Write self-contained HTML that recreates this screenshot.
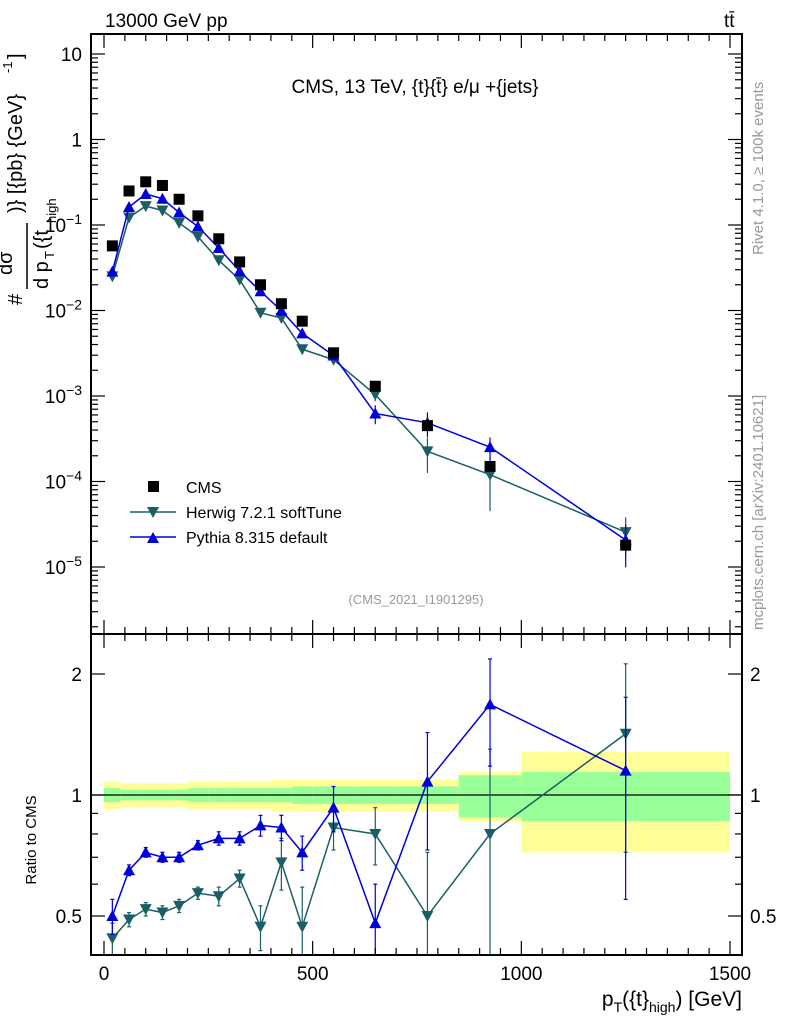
<!DOCTYPE html>
<html><head><meta charset="utf-8"><style>
body{margin:0;background:#fff}
svg{display:block;font-family:"Liberation Sans",sans-serif}
</style></head><body>
<svg id="c" width="786" height="1024">
<g id="bands"></g>
<g id="marks"></g>
<rect x="91" y="34" width="651" height="921" fill="none" stroke="#000" stroke-width="2"/>
<line x1="91" y1="634" x2="742" y2="634" stroke="#000" stroke-width="2"/>
<g id="axes"></g>
<text x="105" y="27" font-size="19">13000 GeV pp</text>
<text x="724" y="27" font-size="19">tt̄</text>
<text x="415" y="93" font-size="19" text-anchor="middle">CMS, 13 TeV, {t}{t̄} e/μ +{jets}</text>
<text x="416" y="604" font-size="13" fill="#999" text-anchor="middle">(CMS_2021_I1901295)</text>
<text transform="translate(763,255) rotate(-90)" font-size="15" fill="#999">Rivet 4.1.0, ≥ 100k events</text>
<text transform="translate(763,630) rotate(-90)" font-size="15" fill="#999">mcplots.cern.ch [arXiv:2401.10621]</text>
<g transform="translate(0,305) rotate(-90)">
<text x="0" y="22" font-size="20">#</text>
<line x1="16" y1="27" x2="82" y2="27" stroke="#000" stroke-width="1.5"/>
<text x="30" y="12" font-size="20">dσ</text>
<text x="16" y="48" font-size="20">d p</text><text x="46" y="54" font-size="13">T</text><text x="56" y="48" font-size="20">({t</text><text x="82" y="56" font-size="13">high</text>
<text x="92" y="22" font-size="20">)} [{pb} {GeV}</text><text x="232" y="12" font-size="13">-1</text><text x="246" y="22" font-size="20">]</text>
</g>
<text transform="translate(36,840) rotate(-90)" font-size="15" text-anchor="middle">Ratio to CMS</text>
<text x="742" y="1006" font-size="21" text-anchor="end">p<tspan font-size="14" dy="6">T</tspan><tspan dy="-6">({t}</tspan><tspan font-size="14" dy="6">high</tspan><tspan dy="-6">) [GeV]</tspan></text>
<g>
<rect x="148" y="481" width="11" height="11" fill="#000"/>
<text x="186" y="493" font-size="16">CMS</text>
<line x1="130" y1="512" x2="176" y2="512" stroke="#1b5e66" stroke-width="1.5"/>
<path d="M147,507 L159,507 L153,518Z" fill="#1b5e66"/>
<text x="186" y="518" font-size="16">Herwig 7.2.1 softTune</text>
<line x1="130" y1="537" x2="176" y2="537" stroke="#0000dd" stroke-width="1.5"/>
<path d="M147,543 L159,543 L153,532Z" fill="#0000dd"/>
<text x="186" y="543" font-size="16">Pythia 8.315 default</text>
</g>
</svg>
<script>
const xs=[20,60,100,140,180,225,275,325,375,425,475,550,650,775,925,1250];
const cms=[0.057,0.25,0.32,0.29,0.2,0.128,0.069,0.037,0.02,0.012,0.0075,0.0032,0.0013,0.00045,0.00015,0.000018];
const herwigRatio=[0.44,0.49,0.52,0.51,0.53,0.57,0.56,0.62,0.47,0.68,0.47,0.83,0.80,0.50,0.80,1.42];
const herwigErr=[0.04,0.02,0.02,0.02,0.02,0.02,0.03,0.03,0.06,0.1,0.12,0.1,0.13,0.22,0.5,0.7];
const pythiaRatio=[0.50,0.65,0.72,0.70,0.70,0.75,0.78,0.78,0.84,0.83,0.72,0.93,0.48,1.08,1.68,1.15];
const pythiaErr=[0.05,0.02,0.02,0.02,0.02,0.02,0.03,0.03,0.05,0.06,0.07,0.12,0.12,0.35,0.5,0.6];
const bandEdges=[0,40,80,120,160,200,250,300,350,400,450,500,600,700,850,1000,1500];
const yellowHalf=[0.08,0.07,0.07,0.07,0.07,0.08,0.08,0.08,0.08,0.09,0.09,0.09,0.09,0.09,0.14,0.28];
const greenHalf=[0.04,0.03,0.03,0.03,0.03,0.04,0.04,0.04,0.04,0.04,0.05,0.05,0.05,0.05,0.12,0.14];
const xTicks=[0,500,1000,1500];
const yTicks=[10,1,0.1,0.01,0.001,0.0001,0.00001];
const yTickLbl=["10","1","10^-1","10^-2","10^-3","10^-4","10^-5"];
const rTicks=[0.5,1,2];

const NS="http://www.w3.org/2000/svg";
const X=v=>104+v*(730-104)/1500;
const Y=v=>54-(Math.log10(v)-1)*85.5;
const R=v=>795-Math.log2(v)*121;
function mk(p,t,a){const e=document.createElementNS(NS,t);for(const k in a)e.setAttribute(k,a[k]);p.appendChild(e);return e;}
const bands=document.getElementById('bands'),marks=document.getElementById('marks'),axes=document.getElementById('axes');
for(let i=0;i<yellowHalf.length;i++){
 const x0=X(bandEdges[i]),x1=X(bandEdges[i+1]);
 let r=mk(bands,'rect',{x:x0,y:R(1+yellowHalf[i]),width:x1-x0,height:R(1-yellowHalf[i])-R(1+yellowHalf[i]),fill:'#ffff99'});
 
 
 r=mk(bands,'rect',{x:x0,y:R(1+greenHalf[i]),width:x1-x0,height:R(1-greenHalf[i])-R(1+greenHalf[i]),fill:'#99ff99'});
 
 
}
mk(bands,'line',{x1:91,x2:742,y1:R(1),y2:R(1),stroke:'#000','stroke-width':1.2});
function clipR(v){return Math.max(R(Math.max(v,0.39)),634);}
function series(ratio,err,col,down,name){
 let pm='',pr='';
 xs.forEach((x,i)=>{const v=cms[i]*ratio[i];pm+=(i?'L':'M')+X(x)+','+Y(v);pr+=(i?'L':'M')+X(x)+','+R(ratio[i]);});
 let l=mk(marks,'path',{d:pm,fill:'none',stroke:col,'stroke-width':1.5});
 
 
 l=mk(marks,'path',{d:pr,fill:'none',stroke:col,'stroke-width':1.5});
 
 
 xs.forEach((x,i)=>{
  const v=cms[i]*ratio[i],rel=err[i]/ratio[i],cx=X(x);
  if(i>=11){mk(marks,'line',{x1:cx,x2:cx,y1:Y(v*(1+rel)),y2:Y(v*Math.max(1-rel,0.3)),stroke:col,'stroke-width':1.2});}
  const up=ratio[i]+err[i],lo=ratio[i]-err[i];
  mk(marks,'line',{x1:cx,x2:cx,y1:clipR(up),y2:Math.min(lo>0.39?R(lo):955,955),stroke:col,'stroke-width':1.2});
  mk(marks,'line',{x1:cx-2,x2:cx+2,y1:clipR(up),y2:clipR(up),stroke:col,'stroke-width':1.2});
  if(lo>0.39)mk(marks,'line',{x1:cx-2,x2:cx+2,y1:R(lo),y2:R(lo),stroke:col,'stroke-width':1.2});
  [Y(v),R(ratio[i])].forEach((cy,k)=>{
   const d=down?`M${cx-6},${cy-5}L${cx+6},${cy-5}L${cx},${cy+6}Z`:`M${cx-6},${cy+5}L${cx+6},${cy+5}L${cx},${cy-6}Z`;
   const p=mk(marks,'path',{d:d,fill:col});
   
   
  });
 });
}
series(herwigRatio,herwigErr,'#1b5e66',true,'herwig');
series(pythiaRatio,pythiaErr,'#0000dd',false,'pythia');
xs.forEach((x,i)=>{
 const s=mk(marks,'rect',{x:X(x)-5.5,y:Y(cms[i])-5.5,width:11,height:11,fill:'#000'});
 
 
});
for(let v=0;v<=1500;v+=50){
 const maj=v%500===0,len=maj?14:7,cx=X(v);
 [[34,1],[634,1],[634,-1],[955,-1]].forEach(([y0,d])=>mk(axes,'line',{x1:cx,x2:cx,y1:y0,y2:y0+d*len,stroke:'#000','stroke-width':1.2}));
}
xTicks.forEach(v=>{const t=mk(axes,'text',{x:X(v),y:980,'font-size':19,'text-anchor':'middle'});t.textContent=v;
 
 });
for(let e=-6;e<=1;e++){for(let m=1;m<10;m++){const v=m*Math.pow(10,e),y=Y(v);if(y<35||y>633)continue;
 const len=m===1?14:7;mk(axes,'line',{x1:91,x2:91+len,y1:y,y2:y,stroke:'#000','stroke-width':1.2});mk(axes,'line',{x1:742,x2:742-len,y1:y,y2:y,stroke:'#000','stroke-width':1.2});}}
yTicks.forEach((v,i)=>{const t=mk(axes,'text',{x:82,y:Y(v)+7,'font-size':19,'text-anchor':'end'});
 const s=yTickLbl[i];if(s.includes('^')){const [b,ex]=s.split('^');t.textContent=b;const ts=mk(t,'tspan',{dy:-8,'font-size':14});ts.textContent=ex.replace('-','−');}else t.textContent=s;
 
 });
[0.4,0.5,0.6,0.7,0.8,0.9,1,2].forEach(v=>{const y=R(v),len=(v===0.5||v===1||v===2)?14:7;
 mk(axes,'line',{x1:91,x2:91+len,y1:y,y2:y,stroke:'#000','stroke-width':1.2});mk(axes,'line',{x1:742,x2:742-len,y1:y,y2:y,stroke:'#000','stroke-width':1.2});});
rTicks.forEach(v=>{[[82,'end'],[750,'start']].forEach(([x,a])=>{const t=mk(axes,'text',{x:x,y:R(v)+7,'font-size':19,'text-anchor':a});t.textContent=v;
 
 });});
</script>
</body></html>
